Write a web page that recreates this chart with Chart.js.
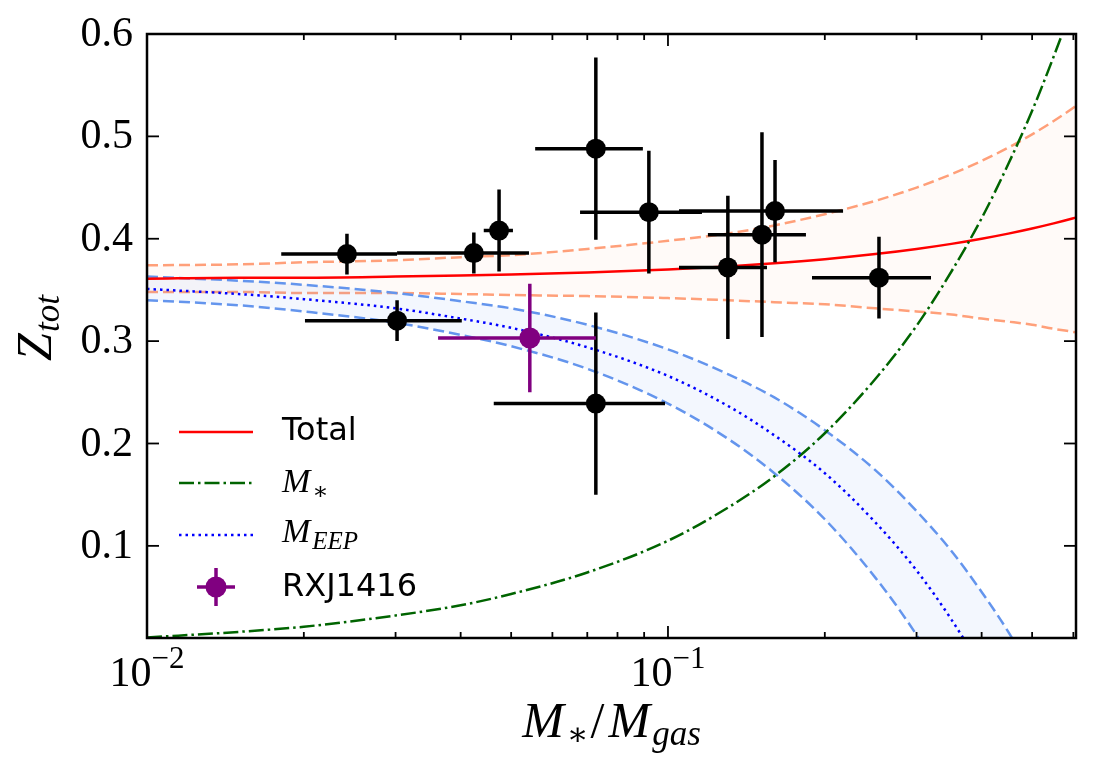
<!DOCTYPE html>
<html>
<head>
<meta charset="utf-8">
<script src="https://cdn.jsdelivr.net/npm/chart.js@4.4.1/dist/chart.umd.min.js"></script>
<style>
  body { margin: 0; background: #fff; }
</style>
</head>
<body>
<canvas id="myChart" width="1097" height="778"></canvas>
<script>
// model curves, sampled along M*/Mgas
const curveX = [0.01, 0.015, 0.02, 0.03, 0.04, 0.05, 0.07, 0.1, 0.13, 0.16, 0.2, 0.25, 0.3, 0.35, 0.4, 0.45, 0.5, 0.55, 0.6, 0.65];
const totalZ = [0.361, 0.362, 0.362, 0.363, 0.364, 0.365, 0.367, 0.370, 0.373, 0.376, 0.380, 0.385, 0.390, 0.395, 0.400, 0.405, 0.410, 0.415, 0.420, 0.425];
const totalHi = [0.374, 0.375, 0.377, 0.379, 0.382, 0.384, 0.390, 0.398, 0.405, 0.413, 0.424, 0.437, 0.450, 0.463, 0.476, 0.489, 0.502, 0.515, 0.528, 0.541];
const totalLo = [0.348, 0.348, 0.347, 0.347, 0.346, 0.345, 0.344, 0.342, 0.340, 0.338, 0.336, 0.332, 0.329, 0.326, 0.322, 0.319, 0.316, 0.312, 0.309, 0.306];
const starZ = [0.0105, 0.016, 0.021, 0.032, 0.042, 0.053, 0.074, 0.105, 0.137, 0.168, 0.210, 0.263, 0.315, 0.368, 0.420, 0.473, 0.525, 0.578, 0.630, 0.683];
const eepZ = [0.351, 0.346, 0.341, 0.332, 0.322, 0.313, 0.294, 0.266, 0.237, 0.208, 0.171, 0.123, 0.076, 0.028, -0.020, -0.067, -0.115];
const eepHi = [0.363, 0.359, 0.355, 0.347, 0.339, 0.332, 0.316, 0.292, 0.268, 0.245, 0.213, 0.174, 0.134, 0.095, 0.055, 0.016, -0.024];
const eepLo = [0.340, 0.335, 0.329, 0.318, 0.306, 0.295, 0.273, 0.239, 0.205, 0.171, 0.126, 0.069, 0.013, -0.044, -0.100, -0.157, -0.213];

// clusters
const ptX = [0.0242, 0.0424, 0.0474, 0.0302, 0.0727, 0.0727, 0.0919, 0.1303, 0.1515, 0.1605, 0.2541];
const ptY = [0.385, 0.386, 0.408, 0.320, 0.239, 0.488, 0.426, 0.372, 0.404, 0.427, 0.362];
const ptXlo = [0.0181, 0.0302, 0.0443, 0.0201, 0.0463, 0.0556, 0.0678, 0.1050, 0.1193, 0.1050, 0.1890];
const ptXhi = [0.0302, 0.0541, 0.0504, 0.0402, 0.0987, 0.0895, 0.1162, 0.1549, 0.1840, 0.2168, 0.3198];
const ptYerr = [0.020, 0.020, 0.040, 0.020, 0.089, 0.089, 0.060, 0.070, 0.100, 0.050, 0.040];

// RXJ1416
const rxX = [0.0543];
const rxY = [0.303];
const rxXlo = [0.0362];
const rxXhi = [0.0727];
const rxYerr = [0.053];

const yTicks = [0.1, 0.2, 0.3, 0.4, 0.5, 0.6];
const xMajor = [0.01, 0.1];
const xMinor = [0.02, 0.03, 0.04, 0.05, 0.06, 0.07, 0.08, 0.09, 0.2, 0.3, 0.4, 0.5, 0.6];
const xLabels = [["10", "\u22122"], ["10", "\u22121"]];

const toXY = (xs, ys) => ys.map((v, i) => ({ x: xs[i], y: v }));

const SALMON = '#ffa07a';
const CORN = '#6495ed';

function curve(data, color, dash, width, order, extra) {
    return Object.assign({
        data: data,
        borderColor: color,
        borderDash: dash,
        borderWidth: width,
        pointRadius: 0,
        fill: false,
        tension: 0,
        cubicInterpolationMode: 'monotone',
        order: order,
    }, extra || {});
}

const errorBars = {
    id: 'errorBars',
    beforeDatasetDraw(chart, args) {
        const ds = chart.data.datasets[args.index];
        if (!ds.errors) return;
        const xs = chart.scales.x, ys = chart.scales.y;
        const c = chart.ctx;
        const area = chart.chartArea;
        c.save();
        c.beginPath();
        c.rect(area.left, area.top, area.right - area.left, area.bottom - area.top);
        c.clip();
        c.strokeStyle = ds.errors.color;
        c.lineWidth = 3.5;
        c.setLineDash([]);
        ds.data.forEach((p, i) => {
            const px = xs.getPixelForValue(p.x), py = ys.getPixelForValue(p.y);
            c.beginPath();
            c.moveTo(xs.getPixelForValue(ds.errors.xlo[i]), py);
            c.lineTo(xs.getPixelForValue(ds.errors.xhi[i]), py);
            c.moveTo(px, ys.getPixelForValue(p.y - ds.errors.yerr[i]));
            c.lineTo(px, ys.getPixelForValue(p.y + ds.errors.yerr[i]));
            c.stroke();
        });
        c.restore();
    }
};

// draw a run of text pieces (for math sub/superscripts)
function drawParts(c, parts, x, y, align) {
    let w = 0;
    parts.forEach(p => { c.font = p.font; p.w = c.measureText(p.t).width + (p.gap || 0); w += p.w; });
    let cx = align === 'center' ? x - w / 2 : (align === 'right' ? x - w : x);
    c.textAlign = 'left';
    c.textBaseline = 'alphabetic';
    parts.forEach(p => {
        c.font = p.font;
        c.fillText(p.t, cx, y + (p.dy || 0));
        cx += p.w;
    });
}

const SERIF = '"Liberation Serif", "DejaVu Serif", serif';
const SANS = '"DejaVu Sans", sans-serif';

const frame = {
    id: 'frame',
    afterDraw(chart) {
        const c = chart.ctx;
        const a = chart.chartArea;
        const xs = chart.scales.x, ys = chart.scales.y;
        c.save();
        c.setLineDash([]);
        c.strokeStyle = '#000';
        c.fillStyle = '#000';

        // ticks pointing inward on all sides
        c.lineWidth = 1.8;
        const tick = (x1, y1, x2, y2) => { c.beginPath(); c.moveTo(x1, y1); c.lineTo(x2, y2); c.stroke(); };
        yTicks.forEach(v => {
            const py = ys.getPixelForValue(v);
            tick(a.left, py, a.left + 12, py);
            tick(a.right, py, a.right - 12, py);
        });
        xMajor.forEach(v => {
            const px = xs.getPixelForValue(v);
            tick(px, a.bottom, px, a.bottom - 12);
            tick(px, a.top, px, a.top + 12);
        });
        xMinor.forEach(v => {
            const px = xs.getPixelForValue(v);
            tick(px, a.bottom, px, a.bottom - 6);
            tick(px, a.top, px, a.top + 6);
        });

        c.lineWidth = 2.5;
        c.strokeRect(a.left, a.top, a.right - a.left, a.bottom - a.top);

        // tick labels
        c.font = '42px ' + SERIF;
        c.textAlign = 'right';
        c.textBaseline = 'middle';
        yTicks.forEach(v => c.fillText(v.toFixed(1), a.left - 14, ys.getPixelForValue(v) + 1));
        xMajor.forEach((v, i) => {
            drawParts(c, [
                { t: xLabels[i][0], font: '42px ' + SERIF },
                { t: xLabels[i][1], font: '31px ' + SERIF, dy: -18 },
            ], xs.getPixelForValue(v), 686, 'center');
        });

        // axis titles
        drawParts(c, [
            { t: 'M', font: 'italic 50px ' + SERIF, gap: 3 },
            { t: '\u2217', font: '32px ' + SERIF, dy: 8, gap: 2 },
            { t: '/', font: '50px ' + SERIF, gap: 4 },
            { t: 'M', font: 'italic 50px ' + SERIF, gap: 2 },
            { t: 'gas', font: 'italic 35px ' + SERIF, dy: 8 },
        ], (a.left + a.right) / 2, 737, 'center');

        c.save();
        c.translate(51, 328);
        c.rotate(-Math.PI / 2);
        drawParts(c, [
            { t: 'Z', font: 'italic 50px ' + SERIF, gap: 1 },
            { t: 'tot', font: 'italic 35px ' + SERIF, dy: 8 },
        ], 0, 0, 'center');
        c.restore();

        // legend
        const lx0 = 179, lx1 = 253, tx = 282;
        const legendLine = (yy, color, dash, width) => {
            c.strokeStyle = color; c.lineWidth = width; c.setLineDash(dash);
            tick(lx0, yy, lx1, yy);
        };
        legendLine(432, '#ff0000', [], 2.5);
        legendLine(483, '#006400', [15, 4, 2.5, 4], 2.5);
        legendLine(535, '#0000ff', [2.5, 4], 2.5);
        c.setLineDash([]);
        c.strokeStyle = '#800080'; c.fillStyle = '#800080'; c.lineWidth = 3.5;
        tick(197, 587, 235, 587);
        tick(216, 568, 216, 606);
        c.beginPath(); c.arc(216, 587, 10.5, 0, Math.PI * 2); c.fill();

        c.fillStyle = '#000';
        c.font = '32px ' + SANS;
        c.textAlign = 'left';
        c.textBaseline = 'middle';
        c.fillText('Total', tx, 432);
        c.fillText('RXJ1416', tx, 588);
        drawParts(c, [
            { t: 'M', font: 'italic 34px ' + SERIF, gap: 2 },
            { t: '\u2217', font: '24px ' + SERIF, dy: 7 },
        ], tx, 492, 'left');
        drawParts(c, [
            { t: 'M', font: 'italic 34px ' + SERIF, gap: 2 },
            { t: 'EEP', font: 'italic 25px ' + SERIF, dy: 7 },
        ], tx, 542, 'left');
        c.restore();
    }
};

const ctx = document.getElementById('myChart').getContext('2d');

const myChart = new Chart(ctx, {
    type: 'line',
    data: {
        datasets: [
            curve(toXY(curveX, totalHi), SALMON, [11, 5], 2.5, 8),
            curve(toXY(curveX, totalLo), SALMON, [11, 5], 2.5, 7, { fill: '-1', backgroundColor: 'rgba(255,160,122,0.05)' }),
            curve(toXY(curveX, eepHi), CORN, [11, 5], 2.5, 6),
            curve(toXY(curveX, eepLo), CORN, [11, 5], 2.5, 5, { fill: '-1', backgroundColor: 'rgba(100,149,237,0.08)' }),
            curve(toXY(curveX, totalZ), '#ff0000', [], 2.5, 4),
            curve(toXY(curveX, starZ), '#006400', [15, 4, 2.5, 4], 2.5, 3),
            curve(toXY(curveX, eepZ), '#0000ff', [2.5, 4], 2.5, 2),
            {
                data: toXY(ptX, ptY),
                showLine: false,
                pointRadius: 10,
                pointBorderWidth: 0,
                pointBackgroundColor: '#000',
                order: 1,
                errors: { xlo: ptXlo, xhi: ptXhi, yerr: ptYerr, color: '#000' },
            },
            {
                data: toXY(rxX, rxY),
                showLine: false,
                pointRadius: 10.5,
                pointBorderWidth: 0,
                pointBackgroundColor: '#800080',
                order: 0,
                errors: { xlo: rxXlo, xhi: rxXhi, yerr: rxYerr, color: '#800080' },
            },
        ],
    },
    options: {
        responsive: false,
        animation: false,
        events: [],
        layout: { padding: { left: 147, right: 21, top: 34, bottom: 140 } },
        scales: {
            x: { type: 'logarithmic', min: 0.01, max: 0.607, display: false },
            y: { type: 'linear', min: 0.01, max: 0.6, display: false },
        },
        plugins: {
            legend: { display: false },
            tooltip: { enabled: false },
        },
    },
    plugins: [errorBars, frame],
});
</script>
</body>
</html>
